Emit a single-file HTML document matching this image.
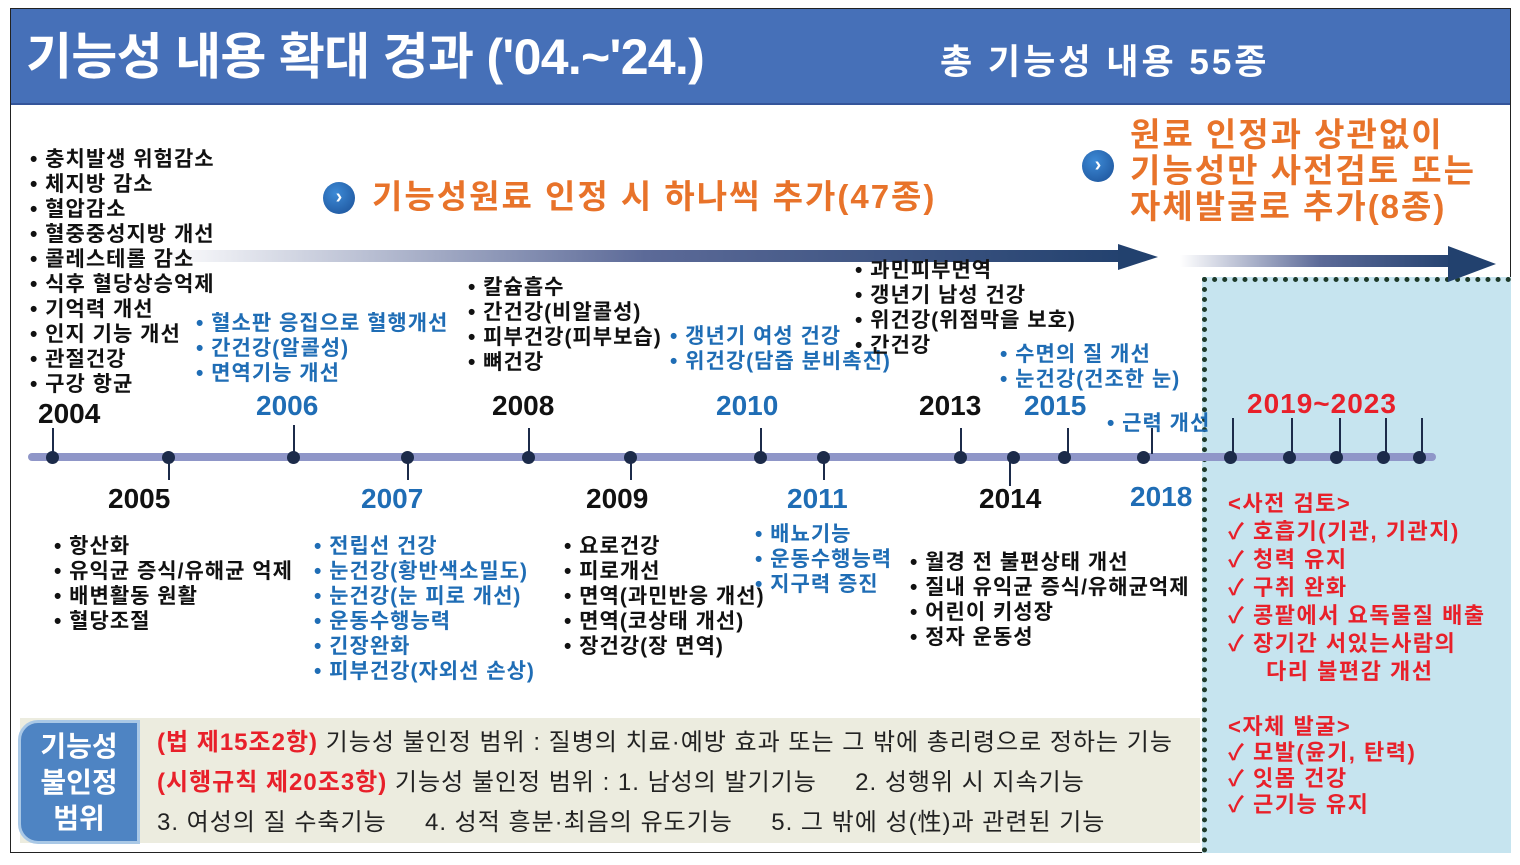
<!DOCTYPE html>
<html><head><meta charset="utf-8"><style>
*{margin:0;padding:0;box-sizing:border-box}
body{width:1520px;height:865px;background:#fff;position:relative;overflow:hidden;font-family:"Liberation Sans","Noto Sans CJK KR",sans-serif;font-weight:bold}
.a{position:absolute;white-space:nowrap}
.l{font-size:21px;line-height:25px;color:#111;letter-spacing:1px}
.b{color:#1f6db5}
.y{font-size:28px;font-weight:bold;line-height:30px;letter-spacing:0}
.dot{position:absolute;width:13px;height:13px;border-radius:50%;background:#1c2b4a;top:451px}
.tk{position:absolute;width:2px;background:#1c2b4a}
.o{color:#e8732a}
.r{color:#e8202a}
</style></head><body>
<div class="a" style="left:10px;top:8px;width:1501px;height:845px;border:1.5px solid #222"></div>
<div class="a" style="left:11px;top:9px;width:1499px;height:96px;background:#4670b8;border-bottom:2px solid #34559a"></div>
<div class="a" style="left:26px;top:22px;font-size:50px;color:#fff;letter-spacing:-0.7px;line-height:70px">기능성 내용 확대 경과 ('04.~'24.)</div>
<div class="a" style="left:940px;top:40px;font-size:35px;color:#fff;line-height:46px;letter-spacing:3px">총 기능성 내용 55종</div>

<div class="a" style="left:1202px;top:277px;width:309px;height:576px;background:#c6e4ef;border-left:5px dotted #1e3a2a;border-top:5px dotted #1e3a2a"></div>

<div class="a" style="left:160px;top:250px;width:970px;height:12px;background:linear-gradient(90deg,#fff,#5c6a98 50%,#22416e)"></div>
<div class="a" style="left:1118px;top:244px;width:0;height:0;border-top:13px solid transparent;border-bottom:13px solid transparent;border-left:40px solid #22416e"></div>
<div class="a" style="left:1180px;top:255px;width:280px;height:12px;background:linear-gradient(90deg,#fff,#5c6a98 50%,#22416e)"></div>
<div class="a" style="left:1448px;top:246px;width:0;height:0;border-top:18px solid transparent;border-bottom:18px solid transparent;border-left:48px solid #22416e"></div>

<div class="a" style="left:323px;top:182px;width:32px;height:32px;border-radius:50%;background:radial-gradient(circle at 40% 35%,#3d8ad6,#1a4f96);color:#fff;font-size:20px;text-align:center;line-height:30px">›</div>
<div class="a" style="left:1082px;top:150px;width:32px;height:32px;border-radius:50%;background:radial-gradient(circle at 40% 35%,#3d8ad6,#1a4f96);color:#fff;font-size:20px;text-align:center;line-height:30px">›</div>
<div class="a o" style="left:372px;top:177px;font-size:33px;line-height:40px;letter-spacing:2px">기능성원료 인정 시 하나씩 추가(47종)</div>
<div class="a o" style="left:1130px;top:117px;font-size:33px;line-height:36px;letter-spacing:2px">원료 인정과 상관없이<br>기능성만 사전검토 또는<br>자체발굴로 추가(8종)</div>

<div class="a" style="left:28px;top:453px;width:1408px;height:8px;background:#8f96c8;border-radius:4px"></div>
<div class="dot" style="left:46px"></div><div class="dot" style="left:162px"></div><div class="dot" style="left:287px"></div><div class="dot" style="left:401px"></div><div class="dot" style="left:522px"></div><div class="dot" style="left:624px"></div><div class="dot" style="left:754px"></div><div class="dot" style="left:817px"></div><div class="dot" style="left:954px"></div><div class="dot" style="left:1007px"></div><div class="dot" style="left:1058px"></div><div class="dot" style="left:1137px"></div><div class="dot" style="left:1224px"></div><div class="dot" style="left:1283px"></div><div class="dot" style="left:1330px"></div><div class="dot" style="left:1377px"></div><div class="dot" style="left:1413px"></div>
<div class="tk" style="left:52px;top:428px;height:26px"></div>
<div class="tk" style="left:293px;top:425px;height:29px"></div>
<div class="tk" style="left:528px;top:428px;height:26px"></div>
<div class="tk" style="left:760px;top:428px;height:26px"></div>
<div class="tk" style="left:960px;top:428px;height:26px"></div>
<div class="tk" style="left:1067px;top:428px;height:26px"></div>
<div class="tk" style="left:1151px;top:428px;height:26px"></div>
<div class="tk" style="left:1232px;top:418px;height:36px"></div>
<div class="tk" style="left:1291px;top:418px;height:36px"></div>
<div class="tk" style="left:1339px;top:418px;height:36px"></div>
<div class="tk" style="left:1385px;top:418px;height:36px"></div>
<div class="tk" style="left:1421px;top:418px;height:36px"></div>
<div class="tk" style="left:168px;top:458px;height:22px"></div>
<div class="tk" style="left:407px;top:458px;height:22px"></div>
<div class="tk" style="left:630px;top:458px;height:22px"></div>
<div class="tk" style="left:823px;top:458px;height:22px"></div>
<div class="tk" style="left:1009px;top:458px;height:28px"></div>

<div class="a y" style="left:38px;top:399px;color:#111">2004</div>
<div class="a y b" style="left:256px;top:391px">2006</div>
<div class="a y" style="left:492px;top:391px;color:#111">2008</div>
<div class="a y b" style="left:716px;top:391px">2010</div>
<div class="a y" style="left:919px;top:391px;color:#111">2013</div>
<div class="a y b" style="left:1024px;top:391px">2015</div>
<div class="a y r" style="left:1247px;top:389px;letter-spacing:1px">2019~2023</div>
<div class="a y" style="left:108px;top:484px;color:#111">2005</div>
<div class="a y b" style="left:361px;top:484px">2007</div>
<div class="a y" style="left:586px;top:484px;color:#111">2009</div>
<div class="a y b" style="left:787px;top:484px">2011</div>
<div class="a y" style="left:979px;top:484px;color:#111">2014</div>
<div class="a y b" style="left:1130px;top:482px">2018</div>

<div class="a l" style="left:30px;top:147px">• 충치발생 위험감소<br>• 체지방 감소<br>• 혈압감소<br>• 혈중중성지방 개선<br>• 콜레스테롤 감소<br>• 식후 혈당상승억제<br>• 기억력 개선<br>• 인지 기능 개선<br>• 관절건강<br>• 구강 항균</div>
<div class="a l b" style="left:196px;top:311px">• 혈소판 응집으로 혈행개선<br>• 간건강(알콜성)<br>• 면역기능 개선</div>
<div class="a l" style="left:468px;top:275px">• 칼슘흡수<br>• 간건강(비알콜성)<br>• 피부건강(피부보습)<br>• 뼈건강</div>
<div class="a l b" style="left:670px;top:324px">• 갱년기 여성 건강<br>• 위건강(담즙 분비촉진)</div>
<div class="a l" style="left:855px;top:258px">• 과민피부면역<br>• 갱년기 남성 건강<br>• 위건강(위점막을 보호)<br>• 간건강</div>
<div class="a l b" style="left:1000px;top:342px">• 수면의 질 개선<br>• 눈건강(건조한 눈)</div>
<div class="a l b" style="left:1107px;top:411px">• 근력 개선</div>

<div class="a l" style="left:54px;top:534px">• 항산화<br>• 유익균 증식/유해균 억제<br>• 배변활동 원활<br>• 혈당조절</div>
<div class="a l b" style="left:314px;top:534px">• 전립선 건강<br>• 눈건강(황반색소밀도)<br>• 눈건강(눈 피로 개선)<br>• 운동수행능력<br>• 긴장완화<br>• 피부건강(자외선 손상)</div>
<div class="a l" style="left:564px;top:534px">• 요로건강<br>• 피로개선<br>• 면역(과민반응 개선)<br>• 면역(코상태 개선)<br>•  장건강(장 면역)</div>
<div class="a l b" style="left:755px;top:522px">• 배뇨기능<br>• 운동수행능력<br>• 지구력 증진</div>
<div class="a l" style="left:910px;top:550px">• 월경 전 불편상태 개선<br>• 질내 유익균 증식/유해균억제<br>• 어린이 키성장<br>• 정자 운동성</div>

<div class="a r" style="left:1228px;top:490px;font-size:22px;line-height:28px;letter-spacing:1.5px">&lt;사전 검토&gt;<br>✓ 호흡기(기관, 기관지)<br>✓ 청력 유지<br>✓ 구취 완화<br>✓ 콩팥에서 요독물질 배출<br>✓ 장기간 서있는사람의<br>&nbsp;&nbsp;&nbsp;&nbsp;&nbsp;다리 불편감 개선</div>
<div class="a r" style="left:1228px;top:714px;font-size:22px;line-height:26px;letter-spacing:1.5px">&lt;자체 발굴&gt;<br>✓ 모발(윤기, 탄력)<br>✓ 잇몸 건강<br>✓ 근기능 유지</div>

<div class="a" style="left:20px;top:718px;width:1180px;height:125px;background:#ececdf"></div>
<div class="a" style="left:18px;top:720px;width:122px;height:124px;background:#4e84c3;border-radius:20px 0 0 20px;border:3px solid #a9c8e6;color:#fff;font-size:28px;line-height:36px;text-align:center;padding-top:6px">기능성<br>불인정<br>범위</div>
<div class="a" style="left:157px;top:723px;font-size:24px;line-height:40px;color:#222;font-weight:normal;letter-spacing:1px">
<span class="r" style="font-weight:bold">(법 제15조2항)</span> 기능성 불인정 범위 :  질병의 치료·예방 효과 또는 그 밖에 총리령으로 정하는 기능<br>
<span class="r" style="font-weight:bold">(시행규칙 제20조3항)</span> 기능성 불인정 범위  :  1. 남성의 발기기능&nbsp;&nbsp;&nbsp;&nbsp;&nbsp;2. 성행위 시 지속기능<br>
3. 여성의 질 수축기능&nbsp;&nbsp;&nbsp;&nbsp;&nbsp;4. 성적 흥분·최음의 유도기능&nbsp;&nbsp;&nbsp;&nbsp;&nbsp;5. 그 밖에 성(性)과 관련된 기능</div>
</body></html>
